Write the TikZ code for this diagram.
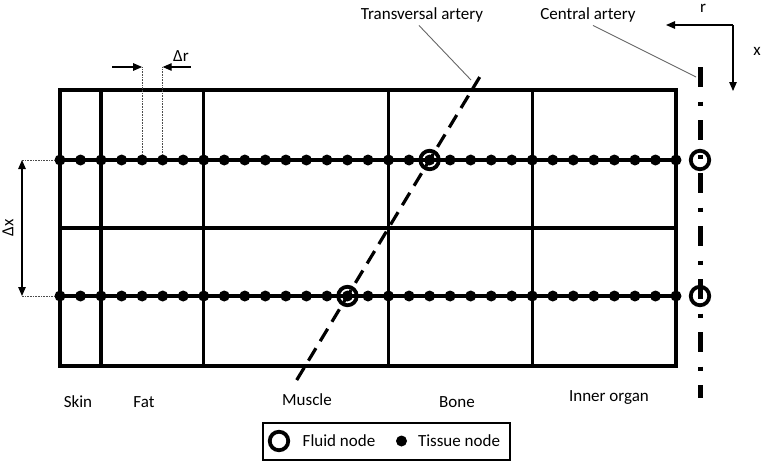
\documentclass[tikz,border=0pt]{standalone}
\usepackage{fontspec}
\setmainfont{Carlito}
\usepackage{tikz}
\usetikzlibrary{
    positioning,
    arrows.meta,
    calc,
}
\tikzset{
    % Node styles
    tissue/.style={circle, fill, inner sep=0pt, minimum size=11pt},
    fluid/.style={circle, draw, line width=3.8pt, inner sep=0pt, minimum size=18.5pt},
    tag/.style={font=\fontsize{17}{19}\selectfont, inner sep=1pt},
    % Line styles
    layer/.style={line width=3.3pt},
    artery/.style={line width=3.2pt, dash pattern=on 14.5pt off 8.2pt},
    central/.style={line width=5pt, dash pattern=on 20pt off 14.5pt on 4pt off 14.5pt},
    leader/.style={draw=black!60, line width=0.9pt},
    guide/.style={densely dotted, line width=0.6pt, black!70},
    % Arrow styles
    measure/.style={-{Triangle[length=9pt, width=7.5pt]}, line width=1.2pt},
}

\begin{document}
\begin{tikzpicture}[x=1pt, y=-1pt]
    \useasboundingbox (0,0) rectangle (762,461);

    % Layers
    \draw[layer] (60,90) rectangle (676,366);
    \draw[layer] (60,228) -- (676,228);
    \foreach \i in {2,7,16,23}
        \draw[layer] (60+\i*20.533,90) -- (60+\i*20.533,366);

    % Tissue nodes
    \foreach \r/\y in {1/160, 2/296} {
        \foreach \i in {0,...,30}
            \node[tissue] (t\r-\i) at (60+\i*20.533,\y) {};
        \draw[layer] (t\r-0.center) -- (t\r-30.center);
    }

    % Fluid nodes
    \node[fluid] (f1) at (t1-18) {};
    \node[fluid] (f2) at (t2-14) {};
    \node[fluid] (c1) at (700,160) {};
    \node[fluid] (c2) at (700,296) {};

    % Arteries
    \draw[artery] ($(f2)!-0.618!(f1)$) -- ($(f1)!-0.61!(f2)$);
    \coordinate (ca top) at (700,67);
    \coordinate (ca bot) at (700,398);
    \draw[central] (ca top) -- (ca bot);

    % Labels
    \node[tag] (ta label) at (422,15) {Transversal artery};
    \node[tag] (ca label) at (588,15) {Central artery};
    \coordinate (ta end) at (471,80);
    \coordinate (ca end) at (696,77);
    \draw[leader] (ta label.south) ++(-3,2) -- (ta end);
    \draw[leader] (ca label.south) ++(5,2) -- (ca end);

    \node[tag] (skin) at (78,402) {Skin};
    \node[tag] (fat) at (144,402) {Fat};
    \node[tag] (muscle) at (307,400) {Muscle};
    \node[tag] (bone) at (457,402) {Bone};
    \node[tag] (organ) at (609,397) {Inner organ};

    % Axes
    \coordinate (origin) at (733,25);
    \draw[measure] (origin) -- (666,25);
    \draw[measure] (origin) -- (733,91);
    \node[tag, inner sep=0pt] (r label) at (703,8) {r};
    \node[tag] (x label) at (757,51) {x};

    % Delta r
    \coordinate (dr) at (0,67);
    \draw[guide] (t1-4) -- (t1-4 |- dr);
    \draw[guide] (t1-5) -- (t1-5 |- dr);
    \draw[measure] ($(t1-4 |- dr)+(-30,0)$) -- (t1-4 |- dr);
    \draw[measure] ($(t1-5 |- dr)+(28,0)$) -- (t1-5 |- dr);
    \node[tag] (dr label) at (181,56) {Δr};

    % Delta x
    \coordinate (dx) at (22,0);
    \draw[guide] (t1-0) -- (t1-0 -| dx);
    \draw[guide] (t2-0) -- (t2-0 -| dx);
    \draw[measure, {Triangle[length=9pt, width=7.5pt]}-{Triangle[length=9pt, width=7.5pt]}]
        (t1-0 -| dx) -- (t2-0 -| dx);
    \node[tag, rotate=90] (dx label) at (8,228) {Δx};

    % Legend
    \node[draw, line width=1.3pt, minimum width=247pt, minimum height=37pt] (legend) at (386.5,441.5) {};
    \node[fluid] (fluid key) at (279,441) {};
    \node[tag] (fluid text) at (339,441) {Fluid node};
    \node[tissue] (tissue key) at (401.5,441) {};
    \node[tag] (tissue text) at (459,441) {Tissue node};
\end{tikzpicture}
\end{document}
